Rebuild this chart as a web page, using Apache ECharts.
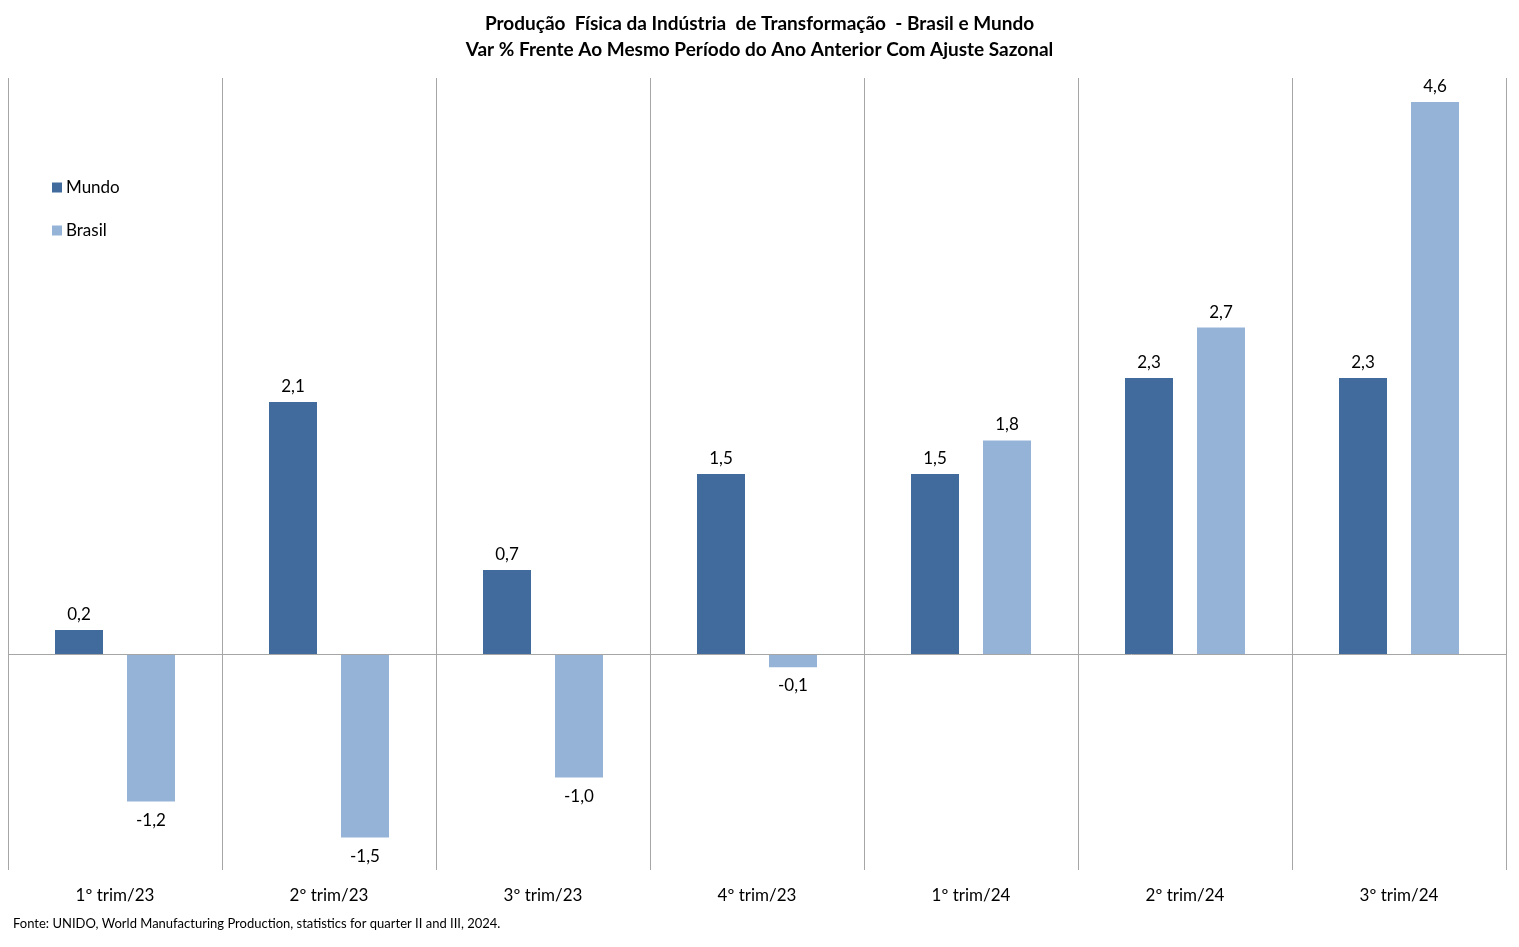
<!DOCTYPE html>
<html>
<head>
<meta charset="utf-8">
<script src="https://cdn.jsdelivr.net/npm/echarts@6/dist/echarts.min.js"></script>
<style>html,body{margin:0;padding:0;background:#fff}#c{width:1519px;height:947px}</style>
</head>
<body>
<div id="c"></div>
<script>
const categories = ['1º trim/23','2º trim/23','3º trim/23','4º trim/23','1º trim/24','2º trim/24','3º trim/24'];
const mundo = [0.2, 2.1, 0.7, 1.5, 1.5, 2.3, 2.3];
const brasil = [-1.23, -1.53, -1.03, -0.11, 1.78, 2.72, 4.6];
const titleLines = ['Produção  Física da Indústria  de Transformação  - Brasil e Mundo', 'Var % Frente Ao Mesmo Período do Ano Anterior Com Ajuste Sazonal'];
const sourceText = 'Fonte: UNIDO, World Manufacturing Production, statistics for quarter II and III, 2024.';

const FONT = 'Lato';
const fmt = p => p.value.toFixed(1).replace('.', ',');
const labelStyle = { fontFamily: FONT, fontSize: 17, color: '#000' };
const chart = echarts.init(document.getElementById('c'));
chart.setOption({
  backgroundColor: '#fff',
  animation: false,
  title: [
    { text: titleLines.join('\n'), left: 'center', top: 6,
      textStyle: { fontFamily: FONT, fontSize: 19, fontWeight: 'bold', color: '#000', lineHeight: 26 } },
    { text: sourceText, left: 8, top: 912,
      textStyle: { fontFamily: FONT, fontSize: 13, fontWeight: 'normal', color: '#000' } }
  ],
  legend: {
    orient: 'vertical', left: 47, top: 174,
    itemWidth: 10, itemHeight: 10, itemGap: 26,
    icon: 'rect',
    textStyle: { fontFamily: FONT, fontSize: 17, color: '#000', padding: [0,0,0,-1] },
    data: ['Mundo', 'Brasil']
  },
  grid: { left: 8, right: 13, top: 78, bottom: 77, containLabel: false },
  xAxis: {
    type: 'category', data: categories,
    axisLine: { show: false }, axisTick: { show: false },
    axisLabel: { fontFamily: FONT, fontSize: 17, color: '#000', margin: 17 },
    splitLine: { show: true, lineStyle: { color: '#A6A6A6', width: 1 } }
  },
  yAxis: {
    type: 'value', min: -1.8, max: 4.8,
    show: false, splitLine: { show: false }
  },
  series: [
    { name: 'Mundo', type: 'bar', data: mundo, barWidth: 48, barGap: '50%',
      itemStyle: { color: '#416A9D' },
      label: Object.assign({ show: true, position: 'top', distance: 7, formatter: fmt }, labelStyle),
      markLine: { silent: true, symbol: 'none', label: { show: false },
        lineStyle: { color: '#A6A6A6', width: 1, type: 'solid' },
        data: [{ yAxis: 0 }] } },
    { name: 'Brasil', type: 'bar', barWidth: 48,
      data: brasil.map(v => v < 0 ? { value: v, label: { position: 'bottom', distance: 10 } } : v),
      itemStyle: { color: '#95B3D7' },
      label: Object.assign({ show: true, position: 'top', distance: 7, formatter: fmt }, labelStyle) }
  ]
});
</script>
</body>
</html>
